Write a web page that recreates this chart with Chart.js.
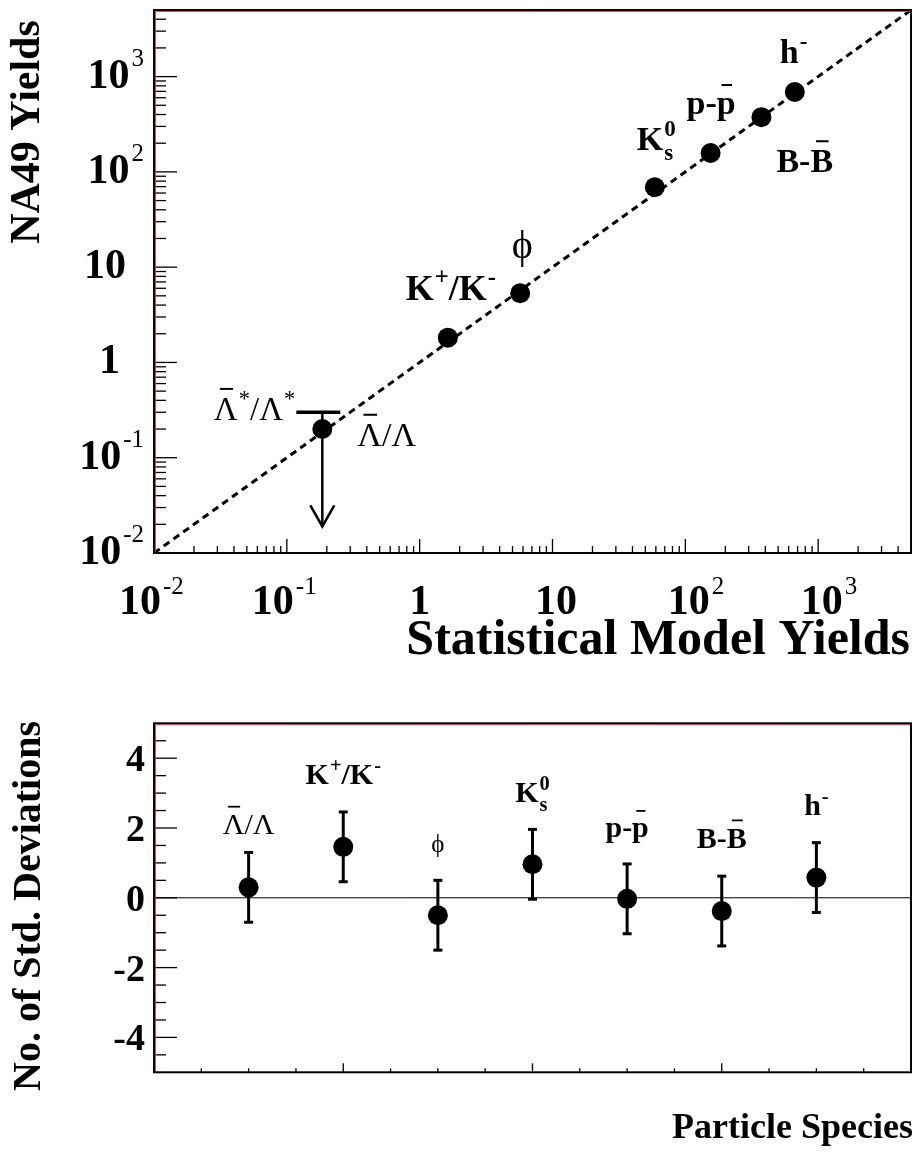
<!DOCTYPE html>
<html>
<head>
<meta charset="utf-8">
<script src="https://cdn.jsdelivr.net/npm/chart.js@4/dist/chart.umd.min.js"></script>
<style>
  html, body { margin: 0; padding: 0; background: #fff; }
  #wrap { position: relative; width: 921px; height: 1153px; }
  canvas { position: absolute; left: 0; }
</style>
</head>
<body>
<div id="wrap">
  <canvas id="yields" width="921" height="680" style="top:0"></canvas>
  <canvas id="devs" width="921" height="473" style="top:680px"></canvas>
</div>
<script>
// yields: statistical model vs NA49, one entry per species
const speciesNames = ['Lbar/L', 'K+/K-', 'phi', 'K0s', 'p-pbar', 'B-Bbar', 'h-'];
const modelYields = [0.185, 1.63, 5.71, 58.9, 155, 374, 667];
const na49Yields = [0.2, 1.82, 5.33, 69.0, 158, 375, 690];
const yieldRange = [0.01, 5000];

// upper limit on anti-Lambda* / Lambda*
const limitModel = 0.185;
const limitValue = 0.3;
const limitArrowTo = 0.019;

// deviations in units of sigma, species placed at 1..7
const speciesPos = [1, 2, 3, 4, 5, 6, 7];
const stdDevs = [0.3, 1.46, -0.5, 0.96, -0.03, -0.38, 0.58];
const stdDevErr = [1, 1, 1, 1, 1, 1, 1];
const devRange = [-5, 5];
const posRange = [0, 8];

// tick labels
const logTickLabels = [
  { v: 0.01, base: '10', exp: '-2' },
  { v: 0.1, base: '10', exp: '-1' },
  { v: 1, base: '1', exp: '' },
  { v: 10, base: '10', exp: '' },
  { v: 100, base: '10', exp: '2' },
  { v: 1000, base: '10', exp: '3' }
];
const devTickLabels = [4, 2, 0, -2, -4];

const FONT = '"Liberation Serif", "Times New Roman", serif';

function setFont(ctx, size, bold) {
  ctx.font = (bold ? 'bold ' : '') + size + 'px ' + FONT;
}

// text with superscripts, subscripts and overbars
function drawRich(ctx, segs, x, y, size, bold, align) {
  const small = size * 0.68;
  const items = [];
  let w = 0;
  segs.forEach(s => {
    if (s.t !== undefined) {
      setFont(ctx, size, bold);
      const sw = ctx.measureText(s.t).width;
      items.push({ t: s.t, x: w, dy: 0, size: size, bar: s.bar, w: sw });
      w += sw;
    } else {
      setFont(ctx, small, bold);
      let sw = 0;
      if (s.sup !== undefined) {
        items.push({ t: s.sup, x: w + 1, dy: -size * 0.42, size: small });
        sw = Math.max(sw, ctx.measureText(s.sup).width + 1);
      }
      if (s.sub !== undefined) {
        items.push({ t: s.sub, x: w + 1, dy: size * 0.3, size: small });
        sw = Math.max(sw, ctx.measureText(s.sub).width + 1);
      }
      w += sw;
    }
  });
  const x0 = align === 'center' ? x - w / 2 : align === 'right' ? x - w : x;
  ctx.textAlign = 'left';
  ctx.textBaseline = 'alphabetic';
  ctx.fillStyle = '#000';
  items.forEach(it => {
    setFont(ctx, it.size, bold);
    ctx.fillText(it.t, x0 + it.x, y + it.dy);
    if (it.bar) {
      const by = y - size * it.bar;
      ctx.strokeStyle = '#000';
      ctx.lineWidth = Math.max(1.5, size * 0.06);
      ctx.beginPath();
      ctx.moveTo(x0 + it.x + it.w * 0.25, by);
      ctx.lineTo(x0 + it.x + it.w * 0.8, by);
      ctx.stroke();
    }
  });
  return w;
}

function line(ctx, x1, y1, x2, y2) {
  ctx.beginPath();
  ctx.moveTo(x1, y1);
  ctx.lineTo(x2, y2);
  ctx.stroke();
}

function drawFrame(ctx, a) {
  ctx.save();
  ctx.strokeStyle = 'rgba(200,50,50,0.85)';
  ctx.lineWidth = 1;
  line(ctx, a.left + 1.5, a.bottom, a.left + 1.5, a.top + 1.5);
  line(ctx, a.left + 1.5, a.top + 1.5, a.right, a.top + 1.5);
  ctx.strokeStyle = '#000';
  ctx.lineWidth = 2;
  ctx.strokeRect(a.left, a.top, a.right - a.left, a.bottom - a.top);
  ctx.restore();
}

function rotatedTitle(ctx, text, cx, cy, size) {
  ctx.save();
  ctx.translate(cx, cy);
  ctx.rotate(-Math.PI / 2);
  setFont(ctx, size, true);
  ctx.fillStyle = '#000';
  ctx.textAlign = 'center';
  ctx.textBaseline = 'middle';
  ctx.fillText(text, 0, 0);
  ctx.restore();
}

// labels beside the points of the upper panel (offsets from the point)
const topLabels = [
  { segs: [{ t: 'Λ', bar: 0.92 }, { t: '/Λ' }], dx: 35, dy: 17, align: 'left', size: 34, bold: false },
  { segs: [{ t: 'K' }, { sup: '+' }, { t: '/K' }, { sup: '-' }], dx: 3, dy: -38, align: 'center', size: 36, bold: true },
  { segs: [{ t: 'ϕ' }], dx: 2, dy: -35, align: 'center', size: 40, bold: false },
  { segs: [{ t: 'K' }, { sub: 's', sup: '0' }], dx: -18, dy: -37, align: 'left', size: 34, bold: true },
  { segs: [{ t: 'p-' }, { t: 'p', bar: 0.85 }], dx: -24, dy: -39, align: 'left', size: 34, bold: true },
  { segs: [{ t: 'B-' }, { t: 'B', bar: 0.91 }], dx: 15, dy: 55, align: 'left', size: 34, bold: true },
  { segs: [{ t: 'h' }, { sup: '-' }], dx: -15, dy: -29, align: 'left', size: 34, bold: true }
];

// labels above the species of the lower panel (baseline below frame top)
const bottomLabels = [
  { segs: [{ t: 'Λ', bar: 0.92 }, { t: '/Λ' }], base: 111, size: 30, bold: false },
  { segs: [{ t: 'K' }, { sup: '+' }, { t: '/K' }, { sup: '-' }], base: 61, size: 30, bold: true },
  { segs: [{ t: 'ϕ' }], base: 129, size: 25, bold: false },
  { segs: [{ t: 'K' }, { sub: 's', sup: '0' }], base: 79, size: 30, bold: true },
  { segs: [{ t: 'p-' }, { t: 'p', bar: 0.88 }], base: 114, size: 30, bold: true },
  { segs: [{ t: 'B-' }, { t: 'B', bar: 0.93 }], base: 125, size: 30, bold: true },
  { segs: [{ t: 'h' }, { sup: '-' }], base: 92, size: 30, bold: true }
];

const yieldsDecor = {
  id: 'yieldsDecor',
  afterDatasetsDraw(chart) {
    const ctx = chart.ctx;
    const a = chart.chartArea;
    const xs = chart.scales.x, ys = chart.scales.y;
    ctx.save();

    // upper limit: bar with arrow pointing down
    const lx = xs.getPixelForValue(limitModel);
    const ly = ys.getPixelForValue(limitValue);
    const la = ys.getPixelForValue(limitArrowTo);
    ctx.strokeStyle = '#000';
    ctx.lineWidth = 3.5;
    line(ctx, lx - 26, ly, lx + 18, ly);
    ctx.lineWidth = 2.5;
    line(ctx, lx, ly, lx, la);
    ctx.beginPath();
    ctx.moveTo(lx - 12, la - 21);
    ctx.lineTo(lx, la);
    ctx.lineTo(lx + 12, la - 21);
    ctx.stroke();
    drawRich(ctx, [{ t: 'Λ', bar: 0.95 }, { sup: '*' }, { t: '/Λ' }, { sup: '*' }],
      lx - 27, ly + 8, 33, false, 'right');

    // species labels
    topLabels.forEach((lb, i) => {
      const px = xs.getPixelForValue(modelYields[i]);
      const py = ys.getPixelForValue(na49Yields[i]);
      drawRich(ctx, lb.segs, px + lb.dx, py + lb.dy, lb.size, lb.bold, lb.align);
    });

    // log ticks pointing inward
    ctx.strokeStyle = '#000';
    ctx.lineWidth = 1.3;
    for (let d = -2; d <= 3; d++) {
      for (let m = 1; m <= 9; m++) {
        const v = m * Math.pow(10, d);
        if (v > yieldRange[1]) continue;
        const major = m === 1;
        const ty = ys.getPixelForValue(v);
        if (ty > a.top + 1) line(ctx, a.left, ty, a.left + (major ? 23 : 12), ty);
        const tx = xs.getPixelForValue(v);
        if (tx < a.right - 1) line(ctx, tx, a.bottom, tx, a.bottom - (major ? 14 : 7));
      }
    }
    drawFrame(ctx, a);

    // tick labels
    ctx.fillStyle = '#000';
    logTickLabels.forEach(tl => {
      const ty = ys.getPixelForValue(tl.v);
      const tx = xs.getPixelForValue(tl.v);
      setFont(ctx, 42, true);
      const bw = ctx.measureText(tl.base).width;
      setFont(ctx, 25, false);
      const ew = tl.exp ? ctx.measureText(tl.exp).width + 2 : 0;
      // y axis
      let right = tl.exp ? 144 : (tl.base === '1' ? 120 : 126);
      let bx = right - ew - bw;
      setFont(ctx, 42, true);
      ctx.textAlign = 'left';
      ctx.textBaseline = 'alphabetic';
      ctx.fillText(tl.base, bx, ty + 11);
      if (tl.exp) {
        setFont(ctx, 25, false);
        ctx.fillText(tl.exp, bx + bw + 2, ty - 11);
      }
      // x axis
      const shift = tl.exp.startsWith('-') ? -14 : (tl.base === '1' ? 0 : 3.5);
      bx = tx + shift - bw / 2;
      setFont(ctx, 42, true);
      ctx.fillText(tl.base, bx, 614);
      if (tl.exp) {
        setFont(ctx, 25, false);
        ctx.fillText(tl.exp, bx + bw + 2, 594);
      }
    });

    // axis titles
    rotatedTitle(ctx, 'NA49 Yields', 28, 132, 42);
    setFont(ctx, 50, true);
    ctx.textAlign = 'right';
    ctx.textBaseline = 'alphabetic';
    ctx.fillText('Statistical Model Yields', 910, 654);
    ctx.restore();
  }
};

const devsDecor = {
  id: 'devsDecor',
  beforeDatasetsDraw(chart) {
    const ctx = chart.ctx;
    const xs = chart.scales.x, ys = chart.scales.y;
    ctx.save();
    ctx.strokeStyle = '#000';
    ctx.lineWidth = 3;
    speciesPos.forEach((p, i) => {
      const px = xs.getPixelForValue(p);
      const hi = ys.getPixelForValue(stdDevs[i] + stdDevErr[i]);
      const lo = ys.getPixelForValue(stdDevs[i] - stdDevErr[i]);
      line(ctx, px, hi, px, lo);
      line(ctx, px - 4.5, hi, px + 4.5, hi);
      line(ctx, px - 4.5, lo, px + 4.5, lo);
    });
    ctx.restore();
  },
  afterDatasetsDraw(chart) {
    const ctx = chart.ctx;
    const a = chart.chartArea;
    const xs = chart.scales.x, ys = chart.scales.y;
    ctx.save();
    ctx.strokeStyle = '#000';
    ctx.lineWidth = 1.3;
    for (let v = devRange[0]; v <= devRange[1]; v += 0.5) {
      const ty = ys.getPixelForValue(v);
      if (ty < a.top + 1 || ty > a.bottom - 1) continue;
      line(ctx, a.left, ty, a.left + (v % 2 === 0 ? 23 : 12), ty);
    }
    for (let v = posRange[0]; v <= posRange[1]; v += 0.5) {
      const tx = xs.getPixelForValue(v);
      if (tx < a.left + 1 || tx > a.right - 1) continue;
      line(ctx, tx, a.bottom, tx, a.bottom - (v % 2 === 0 ? 9 : 4));
    }
    drawFrame(ctx, a);

    bottomLabels.forEach((lb, i) => {
      const px = xs.getPixelForValue(speciesPos[i]);
      drawRich(ctx, lb.segs, px, a.top + lb.base, lb.size, lb.bold, 'center');
    });

    ctx.fillStyle = '#000';
    setFont(ctx, 38, true);
    ctx.textAlign = 'right';
    ctx.textBaseline = 'alphabetic';
    devTickLabels.forEach(v => {
      ctx.fillText(String(v), 145, ys.getPixelForValue(v) + 13);
    });

    rotatedTitle(ctx, 'No. of Std. Deviations', 30, 226, 40);
    setFont(ctx, 36, true);
    ctx.textAlign = 'right';
    ctx.fillText('Particle Species', 913, 458);
    ctx.restore();
  }
};

const hiddenAxis = {
  grid: { display: false },
  border: { display: false },
  ticks: { display: false },
  bounds: 'data'
};

new Chart(document.getElementById('yields'), {
  type: 'scatter',
  data: {
    datasets: [
      {
        data: modelYields.map((m, i) => ({ x: m, y: na49Yields[i] })),
        pointRadius: 10,
        pointBackgroundColor: '#000',
        pointBorderWidth: 0
      },
      {
        type: 'line',
        data: [{ x: yieldRange[0], y: yieldRange[0] }, { x: yieldRange[1], y: yieldRange[1] }],
        borderColor: '#000',
        borderWidth: 3,
        borderDash: [7, 5],
        pointRadius: 0,
        fill: false
      }
    ]
  },
  options: {
    responsive: false,
    animation: false,
    events: [],
    layout: { padding: { top: 5, right: 6, left: 0, bottom: 0 } },
    plugins: { legend: { display: false }, tooltip: { enabled: false } },
    scales: {
      x: Object.assign({}, hiddenAxis, {
        type: 'logarithmic', min: yieldRange[0], max: yieldRange[1],
        afterFit: s => { s.height = 127; }
      }),
      y: Object.assign({}, hiddenAxis, {
        type: 'logarithmic', min: yieldRange[0], max: yieldRange[1],
        afterFit: s => { s.width = 154; }
      })
    }
  },
  plugins: [yieldsDecor]
});

new Chart(document.getElementById('devs'), {
  type: 'scatter',
  data: {
    datasets: [
      {
        data: speciesPos.map((p, i) => ({ x: p, y: stdDevs[i] })),
        pointRadius: 10,
        pointBackgroundColor: '#000',
        pointBorderWidth: 0
      },
      {
        type: 'line',
        data: [{ x: posRange[0], y: 0 }, { x: posRange[1], y: 0 }],
        borderColor: '#000',
        borderWidth: 1,
        pointRadius: 0,
        fill: false
      }
    ]
  },
  options: {
    responsive: false,
    animation: false,
    events: [],
    layout: { padding: { top: 43.3, right: 6, left: 0, bottom: 0 } },
    plugins: { legend: { display: false }, tooltip: { enabled: false } },
    scales: {
      x: Object.assign({}, hiddenAxis, {
        type: 'linear', min: posRange[0], max: posRange[1],
        afterFit: s => { s.height = 80.7; }
      }),
      y: Object.assign({}, hiddenAxis, {
        type: 'linear', min: devRange[0], max: devRange[1],
        afterFit: s => { s.width = 154; }
      })
    }
  },
  plugins: [devsDecor]
});
</script>
</body>
</html>
